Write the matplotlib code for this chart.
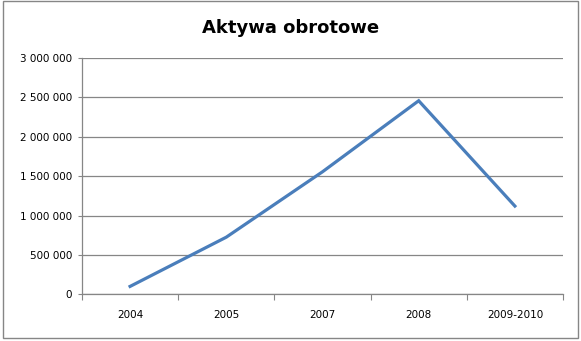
import numpy as np
import matplotlib.pyplot as plt
from matplotlib.patches import Rectangle
from matplotlib.ticker import FuncFormatter

# data
years = ['2004', '2005', '2007', '2008', '2009-2010']
values = [100000, 725000, 1555000, 2457000, 1120000]

fig = plt.figure(figsize=(5.81, 3.41), dpi=100)
ax = fig.add_axes([0.1411, 0.137, 0.969 - 0.1411, 0.830 - 0.137])

x = np.arange(len(years))
ax.plot(x, values, color='#4a7ebb', lw=2.3, solid_joinstyle='miter')

ax.set_xlim(-0.5, len(years) - 0.5)
ax.set_ylim(0, 3000000)
ax.set_yticks(np.arange(0, 3000001, 500000))
ax.yaxis.set_major_formatter(FuncFormatter(lambda v, p: f'{int(v):,}'.replace(',', ' ')))
ax.set_xticks(np.arange(len(years) + 1) - 0.5)
ax.set_xticklabels([])
ax.set_xticks(x, minor=True)
ax.set_xticklabels(years, minor=True)
ax.tick_params(axis='x', which='minor', length=0, pad=11, labelsize=7.5)
ax.tick_params(axis='x', which='major', length=4, color='#868686')
ax.tick_params(axis='y', length=3, color='#868686', labelsize=7.5, pad=4)

ax.grid(axis='y', color='#868686', lw=0.9)
ax.set_axisbelow(True)
for s in ['top', 'right']:
    ax.spines[s].set_visible(False)
for s in ['left', 'bottom']:
    ax.spines[s].set_color('#868686')
    ax.spines[s].set_linewidth(0.9)

fig.text(0.5, 0.918, 'Aktywa obrotowe', ha='center', va='center',
         fontsize=13, fontweight='bold')

# chart border
fig.patches.append(Rectangle((3 / 581, 3 / 341), 575 / 581, 337 / 341,
                             transform=fig.transFigure, fill=False,
                             edgecolor='#868686', lw=1))

fig.savefig('out.png', dpi=100)
